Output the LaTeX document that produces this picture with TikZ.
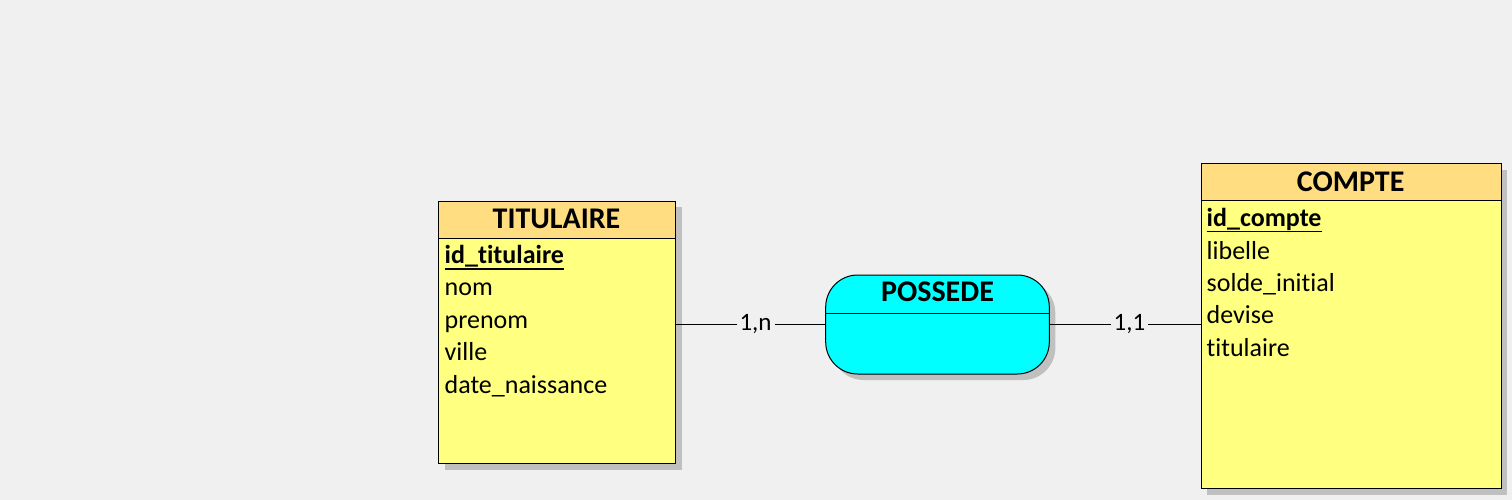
\documentclass[tikz,border=0pt]{standalone}
\usepackage{fontspec}
\setmainfont{Carlito}[Ligatures=CommonOff]
\usetikzlibrary{shadows}
\definecolor{bg}{HTML}{F0F0F0}
\definecolor{headc}{HTML}{FFDD80}
\definecolor{bodyc}{HTML}{FFFF80}
\definecolor{shad}{HTML}{C0C0C0}
\definecolor{assoc}{HTML}{00FFFF}
\begin{document}
\begin{tikzpicture}[x=1pt,y=-1pt,
  shadowed/.style={drop shadow={shadow xshift=6pt,shadow yshift=-6pt,fill=shad,opacity=1}},
  entbody/.style={draw=black,fill=bodyc,line width=1pt,rectangle,inner sep=0,anchor=north west,shadowed},
  enthead/.style={draw=black,fill=headc,line width=1pt,rectangle,inner sep=0,anchor=north west},
  assocbox/.style={draw=black,fill=assoc,line width=1pt,rectangle,rounded corners=32pt,inner sep=0,shadowed},
  ttl/.style={font=\fontsize{30}{34}\selectfont\bfseries,inner sep=0,anchor=base},
  attr/.style={font=\fontsize{26}{30}\selectfont,inner sep=0,anchor=base west},
  attrkey/.style={attr,font=\fontsize{26}{30}\selectfont\bfseries},
  card/.style={font=\fontsize{25}{29}\selectfont,fill=bg,inner sep=3pt},
  link/.style={line width=1pt,draw=black},
  uline/.style={line width=1.3pt}]
\fill[bg] (0,0) rectangle (1512,500);
\useasboundingbox (0,0) rectangle (1512,500);

% TITULAIRE
\node[entbody,minimum width=237pt,minimum height=262.3pt] (tit) at (438,200.7) {};
\node[enthead,minimum width=237pt,minimum height=37.3pt] (tith) at (tit.north west) {};
\node[ttl] (titt) at (556.5,228.7) {TITULAIRE};
\node[attrkey] (t1) at (444.5,263.5) {id\_titulaire};
\draw[uline] ([yshift=-5.5pt]t1.base west) -- ([yshift=-5.5pt]t1.base east);
\node[attr] (t2) at (444.5,295.9) {nom};
\node[attr] (t3) at (444.5,328.3) {prenom};
\node[attr] (t4) at (444.5,360.7) {ville};
\node[attr] (t5) at (444.5,393.1) {date\_naissance};

% COMPTE
\node[entbody,minimum width=300pt,minimum height=325pt] (cpt) at (1200.7,163.3) {};
\node[enthead,minimum width=300pt,minimum height=36.7pt] (cpth) at (cpt.north west) {};
\node[ttl] (cptt) at (1350.7,191) {COMPTE};
\node[attrkey] (c1) at (1206.5,226.7) {id\_compte};
\draw[uline] ([yshift=-5pt]c1.base west) -- ([yshift=-5pt]c1.base east);
\node[attr] (c2) at (1206.5,259.1) {libelle};
\node[attr] (c3) at (1206.5,291.5) {solde\_initial};
\node[attr] (c4) at (1206.5,323.9) {devise};
\node[attr] (c5) at (1206.5,356.3) {titulaire};

% POSSEDE
\node[assocbox,minimum width=223.6pt,minimum height=99pt] (pos) at (937.5,324.5) {};
\draw[line width=1pt] (pos.west |- 0,313.3) -- (pos.east |- 0,313.3);
\node[ttl] (post) at (937.5,301.7) {POSSEDE};

% links
\draw[link] (pos.west -| tit.east) -- node[card,pos=0.533] {1,n} (pos.west);
\draw[link] (pos.east) -- node[card,pos=0.528] {1,1} (pos.east -| cpt.west);
\end{tikzpicture}
\end{document}
